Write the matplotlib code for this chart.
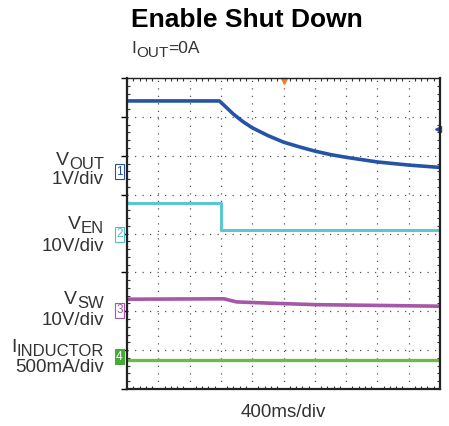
import matplotlib
matplotlib.use('Agg')
import matplotlib.pyplot as plt
import numpy as np

plt.rcParams['font.family'] = ['Liberation Sans', 'DejaVu Sans']

W, H = 449, 426

# traces, in scope divisions (x: 0..10, y: 0..8 from bottom)
voutT = [0, 2.95, 3.1, 3.4, 3.7, 4.0, 4.5, 5.0, 5.5, 6.0, 6.5, 7.0, 7.5, 8.0, 8.5, 9.0, 9.5, 10.0]
voutV = [7.41, 7.41, 7.30, 7.07, 6.88, 6.72, 6.52, 6.35, 6.23, 6.12, 6.03, 5.96, 5.90, 5.84, 5.80, 5.76, 5.73, 5.70]
venT = [0, 3.0, 3.0, 10.0]
venV = [4.79, 4.79, 4.08, 4.08]
vswT = [0, 3.1, 3.5, 4.5, 6.0, 8.0, 10.0]
vswV = [2.31, 2.32, 2.24, 2.21, 2.17, 2.15, 2.13]
indT = [0, 10.0]
indV = [0.74, 0.74]

chanLevels = [5.59, 3.98, 2.03, 0.83]
chanNames = ['1', '2', '3', '4']
chanColors = ['#2a4e9e', '#4fbfcc', '#a455a6', '#4aa83a']
traceColors = ['#2553a8', '#5cc6d2', '#a557a8', '#6cbb45']

def px(x, y):
    return x / W, 1 - y / H

fig = plt.figure(figsize=(W / 100, H / 100), dpi=100)
ax = fig.add_axes([127 / W, 37 / H, 313 / W, 311 / H])
ax.set_xlim(0, 10)
ax.set_ylim(0, 8)

ax.set_xticks(np.arange(0, 11))
ax.set_yticks(np.arange(0, 9))
ax.grid(True, color='#555555', linestyle=(0, (1, 5)), linewidth=0.9)
ax.set_xticklabels([])
ax.set_yticklabels([])
ax.tick_params(axis='x', length=0)
ax.tick_params(axis='y', direction='out', length=4, width=1, right=False)
ax.set_xticks(np.arange(0, 10.01, 0.2), minor=True)
ax.set_yticks(np.arange(0, 8.01, 0.2), minor=True)
ax.tick_params(which='minor', direction='in', length=2, width=0.8,
               top=True, right=True, color='#333333')
for s in ax.spines.values():
    s.set_linewidth(1.6)
    s.set_color('#222222')
ax.spines['top'].set_linewidth(1.0)

ax.plot(voutT, voutV, color=traceColors[0], lw=2.6, solid_joinstyle='round')
ax.plot(venT, venV, color=traceColors[1], lw=2.2)
ax.plot(vswT, vswV, color=traceColors[2], lw=2.6)
ax.plot(indT, indV, color=traceColors[3], lw=2.4)

# trigger marker and level marker
ax.plot([5], [7.93], marker='v', color='#f07f2a', markersize=5, clip_on=False)
ax.plot([9.93], [6.68], marker='<', color='#2a4e9e', markersize=4, clip_on=False)

# channel markers
for lvl, name, c in zip(chanLevels, chanNames, chanColors):
    filled = name == '4'
    ax.text(-0.24, lvl, name, transform=ax.transData, ha='center', va='center',
            fontsize=8.5, color='white' if filled else c, clip_on=False,
            bbox=dict(boxstyle='square,pad=0.12', fc=c if filled else 'white',
                      ec=c, lw=0.8))

renderer = fig.canvas.get_renderer()

def sub_label(xr, ybase, main, sub, size, subsize, drop):
    # right aligned label with subscript
    ts = fig.text(*px(xr, ybase + drop), sub, ha='right', va='baseline',
                  fontsize=subsize, color='#333333')
    w = ts.get_window_extent(renderer).width
    fig.text(*px(xr - w, ybase), main, ha='right', va='baseline',
             fontsize=size, color='#333333')

sub_label(104, 165, 'V', 'OUT', 14, 12, 4)
fig.text(*px(104, 184), '1V/div', ha='right', va='baseline', fontsize=13.5, color='#333333')
sub_label(104, 229, 'V', 'EN', 14, 12, 4)
fig.text(*px(104, 251), '10V/div', ha='right', va='baseline', fontsize=13.5, color='#333333')
sub_label(104, 304, 'V', 'SW', 14, 12, 4)
fig.text(*px(104, 325), '10V/div', ha='right', va='baseline', fontsize=13.5, color='#333333')
sub_label(104, 352, 'I', 'INDUCTOR', 14, 12, 4)
fig.text(*px(104, 372), '500mA/div', ha='right', va='baseline', fontsize=13.5, color='#333333')

# title block
fig.text(*px(131, 27), 'Enable Shut Down', ha='left', va='baseline',
         fontsize=19, fontweight='bold', color='black')
t1 = fig.text(*px(131, 53), 'I', ha='left', va='baseline', fontsize=12.5, color='#333333')
x = 131 + t1.get_window_extent(renderer).width
t2 = fig.text(*px(x, 57), 'OUT', ha='left', va='baseline', fontsize=11, color='#333333')
x += t2.get_window_extent(renderer).width
fig.text(*px(x, 53), '=0A', ha='left', va='baseline', fontsize=12.5, color='#333333')

fig.text(*px(283, 417), '400ms/div', ha='center', va='baseline', fontsize=13.5, color='#333333')

fig.savefig('out.png', dpi=100)
